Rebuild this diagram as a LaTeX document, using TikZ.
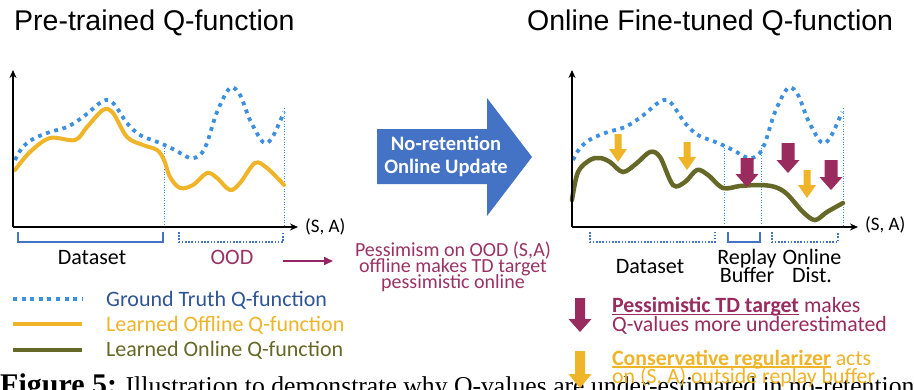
\documentclass[tikz,border=0pt]{standalone}
\usepackage{fontspec}
\setmainfont{Carlito}
\newfontfamily\titlefont{Liberation Sans}
\newfontfamily\capfont{Liberation Serif}
\usetikzlibrary{arrows.meta}
\definecolor{gtblue}{RGB}{61,143,224}
\definecolor{offorange}{RGB}{240,180,41}
\definecolor{onolive}{RGB}{102,104,40}
\definecolor{maroonA}{RGB}{153,43,94}
\definecolor{pesstext}{RGB}{155,50,102}
\definecolor{legblue}{RGB}{47,85,151}
\definecolor{arrowblue}{RGB}{68,114,196}
\newcommand\thickul[1]{\setbox0\hbox{#1}\rlap{\rule[-2.5pt]{\wd0}{1.4pt}}\box0\relax}
% block arrow pointing down: x, ytop, ytip, shaft width, head width, head height
\newcommand\downblock[7]{%
  \fill[#7] ({#1-#4/2},#2) -- ({#1+#4/2},#2) -- ({#1+#4/2},{#3-#6}) -- ({#1+#5/2},{#3-#6})
    -- (#1,#3) -- ({#1-#5/2},{#3-#6}) -- ({#1-#4/2},{#3-#6}) -- cycle;}
\newcommand\gtcurve{plot[smooth,tension=0.55] coordinates {(15,160) (22,148) (33,139) (50,132) (67,127) (83,117) (103,101) (113,103) (127,123) (140,135) (160,143) (175,150) (190,158) (200,155) (207,143) (217,112) (230,88) (240,95) (250,120) (263,142) (272,138) (284,112)}}
\begin{document}
\begin{tikzpicture}[x=1pt,y=-1pt,
  axis/.style={line width=2pt,-{Stealth[length=8pt,width=7pt]}},
  gt/.style={gtblue,line width=3.8pt,dash pattern=on 3.8pt off 4.7pt},
  offq/.style={offorange,line width=4pt,line cap=round},
  onq/.style={onolive,line width=4.5pt,line cap=round},
  guide/.style={gtblue,line width=0.9pt,dash pattern=on 1pt off 1.6pt},
  dbrace/.style={arrowblue,line width=1.6pt,dash pattern=on 1.6pt off 1.6pt},
  sbrace/.style={arrowblue,line width=1.6pt},
  lbl/.style={inner sep=0pt,font=\fontsize{22}{22}\selectfont},
  small/.style={inner sep=0pt,font=\fontsize{19}{19}\selectfont},
  ttl/.style={inner sep=0pt,font=\titlefont\fontsize{28.5}{28.5}\selectfont},
  pess/.style={inner sep=0pt,text=pesstext,font=\fontsize{20}{20}\selectfont},
  note/.style={inner sep=0pt,anchor=base west,font=\fontsize{21.8}{21.8}\selectfont}
]
\clip (0,0) rectangle (914,389);
\fill[white] (0,0) rectangle (914,389);

% titles
\node[ttl,anchor=base west] (t1) at (14,30) {Pre-trained Q-function};
\node[ttl,anchor=base west] (t2) at (527,30) {Online Fine-tuned Q-function};

% ---------- left plot ----------
\coordinate (lo) at (13,227);
\coordinate (ly) at (13,70);
\coordinate (lx) at (298,227);
\draw[guide] (164,143) -- (164,227);
\draw[guide] (284,108) -- (284,227);
\draw[gt] \gtcurve;
\draw[offq] plot[smooth,tension=0.55] coordinates {(15,170) (30,152) (50,138) (75,140) (87,127) (103,110) (113,113) (127,137) (143,145) (157,150) (164,160) (170,177) (180,188) (193,185) (207,173) (217,178) (230,190) (240,183) (255,163) (267,168) (284,185)};
\draw[axis] (lo) -- (ly);
\draw[axis] (lo) -- (lx);
\node[small,anchor=west] (lsa) at (305,227) {(S, A)};
\draw[sbrace] (18,232) -- (18,242) -- (163,242) -- (163,232);
\draw[dbrace] (179,232) -- (179,242) -- (283,242) -- (283,232);
\node[lbl,anchor=base] (lds) at (92,264) {Dataset};
\node[lbl,anchor=base,text=pesstext] (ood) at (232,264) {OOD};

% purple connector
\coordinate (pa) at (283,261);
\coordinate (pb) at (333,261);
\draw[maroonA!85!violet,line width=1.8pt,-{Triangle[length=9pt,width=8pt]}] (pa) -- (pb);
\node[pess,anchor=base] (p1) at (453,256.5) {Pessimism on OOD (S,A)};
\node[pess,anchor=base] (p2) at (453,272.5) {offline makes TD target};
\node[pess,anchor=base] (p3) at (453,288.5) {pessimistic online};

% big block arrow
\fill[arrowblue] (377,129) -- (487,129) -- (487,98) -- (532,157) -- (487,216) -- (487,184) -- (377,184) -- cycle;
\node[inner sep=0pt,text=white,font=\bfseries\fontsize{20.5}{20.5}\selectfont] (b1) at (446,143) {No-retention};
\node[inner sep=0pt,text=white,font=\bfseries\fontsize{20.5}{20.5}\selectfont] (b2) at (446,168) {Online Update};

% legend
\draw[gt,dash pattern=on 4pt off 4.6pt] (13,299) -- (83,299);
\draw[offorange,line width=4pt] (13,324) -- (82,324);
\draw[onolive,line width=4pt] (13,350) -- (82,350);
\node[lbl,anchor=base west,text=legblue] (lg1) at (106,306) {Ground Truth Q-function};
\node[lbl,anchor=base west,text=offorange] (lg2) at (106,331.5) {Learned Offline Q-function};
\node[lbl,anchor=base west,text=onolive] (lg3) at (106,356.5) {Learned Online Q-function};

% ---------- right plot ----------
\coordinate (ro) at (572,227);
\coordinate (ry) at (572,70);
\coordinate (rx) at (858,227);
\draw[guide] (724,145) -- (724,227);
\draw[guide] (761,145) -- (761,227);
\draw[guide] (843,108) -- (843,227);
\begin{scope}[xshift=558pt]
\draw[gt] \gtcurve;
\end{scope}
\draw[onq] plot[smooth,tension=0.55] coordinates {(572,200) (578,172) (590,160) (600,158) (610,162) (623,172) (637,163) (650,152) (660,157) (673,185) (685,182) (697,170) (708,175) (723,188) (740,186) (760,185) (775,187) (787,194) (803,212) (815,220) (827,212) (843,203)};
\draw[axis] (ro) -- (ry);
\draw[axis] (ro) -- (rx);
\node[small,anchor=west] (rsa) at (865,225) {(S, A)};
\draw[dbrace] (590,232) -- (590,242) -- (715,242) -- (715,232);
\draw[sbrace] (728,232) -- (728,242) -- (760,242) -- (760,232);
\draw[dbrace] (772,232) -- (772,242) -- (838,242) -- (838,232);
\node[lbl,anchor=base] (rds) at (650,273.5) {Dataset};
\node[lbl,anchor=base] (rb1) at (747,264) {Replay};
\node[lbl,anchor=base] (rb2) at (747,282.5) {Buffer};
\node[lbl,anchor=base] (ro1) at (812,264) {Online};
\node[lbl,anchor=base] (ro2) at (812,282.5) {Dist.};

% down arrows on plot
\downblock{618}{134}{162}{7}{18}{13}{offorange}
\downblock{687}{142}{170}{7}{18}{13}{offorange}
\downblock{807}{170}{198}{7}{18}{13}{offorange}
\downblock{747}{158}{187}{13}{23}{13}{maroonA}
\downblock{788}{143}{173}{13}{23}{13}{maroonA}
\downblock{831}{160}{190}{13}{23}{13}{maroonA}

% caption (cut off)
\node[inner sep=0pt,anchor=base west,font=\capfont\fontsize{25.7}{25.7}\selectfont] (cap) at (0,394)
  {{\bfseries\fontsize{30}{30}\selectfont Figure 5:} Illustration to demonstrate why Q-values are under-estimated in no-retention};

% bottom-right notes
\downblock{580}{298}{332}{10}{23}{13}{maroonA}
\downblock{580}{351}{388}{10}{23}{14}{offorange}
\node[note,text=maroonA] (n1) at (612,312.5) {\thickul{\bfseries Pessimistic TD target} makes};
\node[note,text=maroonA] (n2) at (612,331) {Q-values more underestimated};
\node[note,text=offorange] (n3) at (612,365) {\thickul{\bfseries Conservative regularizer} acts};
\node[note,text=offorange] (n4) at (612,383.5) {on (S, A) outside replay buffer};
\end{tikzpicture}
\end{document}
